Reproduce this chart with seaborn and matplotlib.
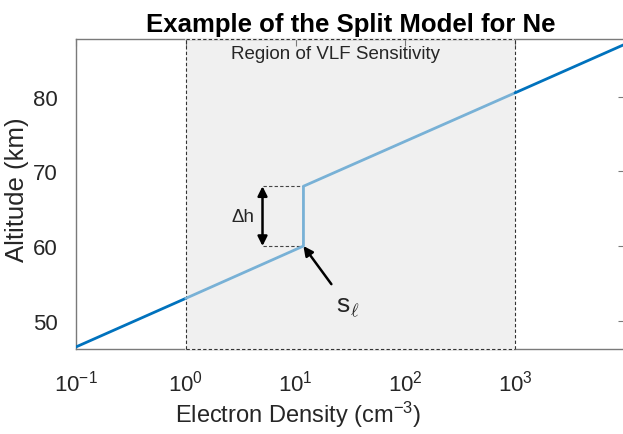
import matplotlib
matplotlib.use("Agg")
import matplotlib.pyplot as plt
import seaborn as sns
import pandas as pd

# Split electron-density profile: altitude (km) vs Ne (cm^-3)
density = [0.1, 1.0, 11.8, 11.8, 1000.0, 10000.0]
altitude = [46.5, 53.0, 60.0, 68.0, 80.5, 87.0]

# VLF sensitive range of Ne (cm^-3)
vlf_range = [1.0, 1000.0]

# Split point and step height
split_density = 11.8
split_low, split_high = 60.0, 68.0
dh_density = 5.0

x_ticks = [0.1, 1, 10, 100, 1000]
x_ticklabels = [r"$10^{-1}$", r"$10^{0}$", r"$10^{1}$", r"$10^{2}$", r"$10^{3}$"]
y_ticks = [50, 60, 70, 80]

sns.set_theme(style="white")
plt.rcParams["font.family"] = ["Liberation Sans", "DejaVu Sans"]
plt.rcParams["mathtext.fontset"] = "custom"
plt.rcParams["mathtext.rm"] = "Liberation Sans"
plt.rcParams["mathtext.it"] = "Liberation Sans:italic"
plt.rcParams["mathtext.sf"] = "Liberation Sans"

dark_blue = "#0072BD"
light_blue = "#78B1D6"
shade = "#F0F0F0"
spine_gray = "#7a7a7a"
text_col = "#262626"

fig = plt.figure(figsize=(6.23, 4.35), dpi=100)
ax = fig.add_axes([0.122, 0.195, 0.881, 0.713])
ax.set_xscale("log")
ylim = (46.2, 87.7)
ax.set_xlim(0.1, 1e4)
ax.set_ylim(*ylim)

# shaded VLF region with dashed border
ax.axvspan(vlf_range[0], vlf_range[1], facecolor=shade, edgecolor="none", zorder=0)
dash = (0, (3, 2))
for xv in vlf_range:
    ax.plot([xv, xv], list(ylim), color="#333333", lw=0.8, ls=dash, zorder=3.2,
            clip_on=False)
for yv in ylim:
    ax.plot(vlf_range, [yv, yv], color=shade, lw=1.6, zorder=3.1, clip_on=False)
    ax.plot(vlf_range, [yv, yv], color="#333333", lw=0.8, ls=dash, zorder=3.2,
            clip_on=False)

df = pd.DataFrame({"density": density, "altitude": altitude})
segments = [(df.iloc[0:2], dark_blue), (df.iloc[1:5], light_blue), (df.iloc[4:6], dark_blue)]
for seg, col in segments:
    sns.lineplot(data=seg, x="density", y="altitude", sort=False, estimator=None,
                 color=col, lw=2.0, ax=ax, zorder=4)

# step height markers
for yv in (split_low, split_high):
    ax.plot([dh_density, split_density], [yv, yv], color="#444444", lw=0.8,
            ls=dash, zorder=2)
ax.annotate("", xy=(dh_density, split_high), xytext=(dh_density, split_low),
            arrowprops=dict(arrowstyle="<|-|>", color="black", lw=1.8,
                            mutation_scale=14, shrinkA=0, shrinkB=0), zorder=5)
ax.text(3.3, 64.0, "Δh", fontsize=13.5, ha="center", va="center", color=text_col)

# split point arrow
ax.annotate("", xy=(split_density, split_low), xytext=(21.2, 54.9),
            arrowprops=dict(arrowstyle="-|>", color="black", lw=1.8,
                            mutation_scale=14, shrinkA=0, shrinkB=0), zorder=5)
ax.text(29.7, 51.9, r"$\mathregular{s}_{\ell}$", fontsize=19, ha="center", va="center",
        color=text_col, math_fontfamily="cm")

ax.text(23.0, 85.8, "Region of VLF Sensitivity", fontsize=13.5, ha="center",
        va="center", color=text_col)

ax.set_xticks(x_ticks)
ax.set_xticklabels(x_ticklabels)
ax.minorticks_off()
ax.set_yticks(y_ticks)
ax.tick_params(direction="in", length=5, width=0.8, color=spine_gray, top=True,
               right=True, labelsize=16, labelcolor=text_col)
ax.tick_params(axis="x", pad=15)
ax.tick_params(axis="y", pad=13)
for sp in ax.spines.values():
    sp.set_color(spine_gray)
    sp.set_linewidth(1.0)

ax.set_xlabel(r"Electron Density (cm$^{-3}$)", fontsize=17, color=text_col)
ax.xaxis.set_label_coords(0.405, -0.16)
ax.set_ylabel("Altitude (km)", fontsize=18.5, color=text_col)
ax.yaxis.set_label_coords(-0.085, 0.516)
ax.set_title("Example of the Split Model for Ne", fontsize=18.5, fontweight="bold",
             color="black", pad=6)

fig.savefig("out.png", dpi=100)
